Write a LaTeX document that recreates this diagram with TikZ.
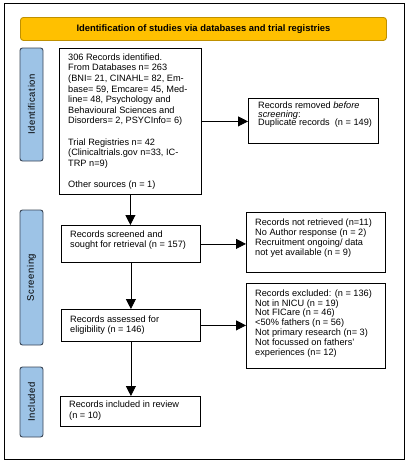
\documentclass[tikz,border=0pt]{standalone}
\usepackage{fontspec}
\setmainfont{Liberation Sans}
\usetikzlibrary{arrows.meta,calc}
\definecolor{hdrfill}{HTML}{FFC000}
\definecolor{hdrdraw}{HTML}{BF9000}
\definecolor{sidefill}{HTML}{9DC3E6}
\definecolor{sidedraw}{HTML}{3A4656}
\begin{document}
\begin{tikzpicture}[x=1pt,y=-1pt,
  box/.style={draw=black, line width=0.8pt, inner sep=0pt},
  txt/.style={anchor=north west, align=left, inner sep=0pt, font=\fontsize{9.2}{#1}\selectfont},
  txt/.default=10,
  side/.style={draw=sidedraw, fill=sidefill, line width=0.9pt, rounded corners=2.5pt, rotate=90,
     minimum height=23pt, inner sep=0pt, font=\fontsize{9.5}{11}\selectfont\addfontfeature{LetterSpace=6}},
  arr/.style={line width=0.8pt, -{Triangle[length=10pt,width=10pt]}}]
\useasboundingbox (0,0) rectangle (410,464);
\node[draw=black, line width=0.8pt, minimum width=400pt, minimum height=456pt, anchor=north west, inner sep=0pt] (frame) at (4,3) {};
\node[draw=hdrdraw, fill=hdrfill, line width=0.9pt, rounded corners=3pt, minimum width=366pt, minimum height=23pt, anchor=north west, inner sep=0pt] (hdr) at (20,17) {};
\node[font=\fontsize{9.4}{11}\selectfont\bfseries] (hdrt) at (hdr.center) {Identification of studies via databases and trial registries};

\node[side, minimum width=113pt] (sid) at (31.5,104.5) {Identification};
\node[side, minimum width=135pt] (sscr) at (31.5,277.5) {Screening};
\node[side, minimum width=70pt] (sinc) at (31.5,402) {Included};

\node[box, minimum width=142pt, minimum height=146pt, anchor=north west] (b1) at (59,48) {};
\node[txt=10.6] (t1) at ([xshift=9pt,yshift=-5.4pt]b1.north west) {306 Records identified.\\From Databases n= 263\\(BNI= 21, CINAHL= 82, Em-\\base= 59, Emcare= 45, Med-\\line= 48, Psychology and\\Behavioural Sciences and\\Disorders= 2, PSYCInfo= 6)\\[10.6pt]Trial Registries n= 42\\(Clinicaltrials.gov n=33, IC-\\TRP n=9)\\[10.6pt]Other sources (n = 1)};

\node[box, minimum width=130pt, minimum height=45pt, anchor=north west] (rem) at (248,98) {};
\node[txt=8.6] (trem) at ([xshift=10pt,yshift=-3.8pt]rem.north west) {Records removed \textit{before}\\\textit{screening}:\\Duplicate records~~(n = 149)};

\node[box, minimum width=139pt, minimum height=37pt, anchor=north west] (b2) at (61,225) {};
\node[txt=10] (t2) at ([xshift=9pt,yshift=-5.7pt]b2.north west) {Records screened and\\sought for retrieval (n = 157)};

\node[box, minimum width=139pt, minimum height=60pt, anchor=north west] (nr) at (246,212) {};
\node[txt=10] (tnr) at ([xshift=9pt,yshift=-6.4pt]nr.north west) {Records not retrieved (n=11)\\No Author response (n = 2)\\Recruitment ongoing/ data\\not yet available (n = 9)};

\node[box, minimum width=139pt, minimum height=32pt, anchor=north west] (b3) at (61,309) {};
\node[txt=10] (t3) at ([xshift=9pt,yshift=-6.7pt]b3.north west) {Records assessed for\\eligibility (n = 146)};

\node[box, minimum width=139pt, minimum height=85pt, anchor=north west] (ex) at (246,283) {};
\node[txt=9.8] (tex) at ([xshift=9pt,yshift=-6.4pt]ex.north west) {Records excluded: (n = 136)\\Not in NICU (n = 19)\\Not FICare (n = 46)\\<50\% fathers (n = 56)\\Not primary research (n= 3)\\Not focussed on fathers’\\experiences (n= 12)};

\node[box, minimum width=140pt, minimum height=30pt, anchor=north west] (b4) at (60,396) {};
\node[txt=10.5] (t4) at ([xshift=9pt,yshift=-4.7pt]b4.north west) {Records included in review\\(n = 10)};

\draw[arr] (b1.east) -- (b1.east -| rem.west);
\draw[arr] (b1.south) -- (b1.south |- b2.north);
\draw[arr] (b2.east) -- (b2.east -| nr.west);
\draw[arr] (b2.south) -- (b2.south |- b3.north);
\draw[arr] (b3.east) -- (b3.east -| ex.west);
\draw[arr] (b3.south) -- (b3.south |- b4.north);
\end{tikzpicture}
\end{document}
